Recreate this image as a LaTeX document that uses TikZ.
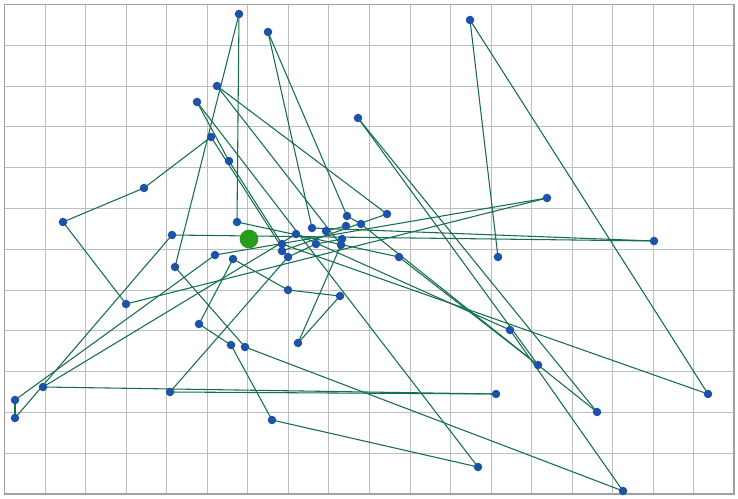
\documentclass[tikz,border=0pt]{standalone}
\definecolor{gridc}{RGB}{190,190,190}
\definecolor{framec}{RGB}{160,160,160}
\definecolor{edgec}{RGB}{22,110,78}
\definecolor{dotc}{RGB}{28,82,168}
\definecolor{startc}{RGB}{38,158,28}
\begin{document}
\begin{tikzpicture}[x=0.75pt,y=-0.75pt,
  gridline/.style={draw=gridc,line width=0.75pt},
  edge/.style={draw=edgec,line width=0.8pt},
  dot/.style={circle,fill=dotc,inner sep=0pt,minimum size=6.4pt},
  startdot/.style={circle,fill=startc,inner sep=0pt,minimum size=14pt}]
\useasboundingbox (0,0) rectangle (738,499);
\fill[white] (0,0) rectangle (738,499);
% grid
\foreach \i in {1,...,17} \draw[gridline] (4.5+40.55*\i,4.5) -- (4.5+40.55*\i,494);
\foreach \j in {1,...,11} \draw[gridline] (4.5,4.5+40.8*\j) -- (734,4.5+40.8*\j);
\draw[draw=framec,line width=1pt] (4.5,4.5) rectangle (734,494);
% points
\coordinate (a1) at (239,14);
\coordinate (a2) at (268,32);
\coordinate (a3) at (470,20);
\coordinate (a4) at (217,86);
\coordinate (a5) at (197,102);
\coordinate (a6) at (358,118);
\coordinate (a7) at (211,137);
\coordinate (a8) at (229,161);
\coordinate (a9) at (144,188);
\coordinate (a10) at (63,222);
\coordinate (a11) at (237,222);
\coordinate (a12) at (172,235);
\coordinate (gs) at (249,239);
\coordinate (a14) at (347,216);
\coordinate (a15) at (387,214);
\coordinate (a16) at (547,198);
\coordinate (a17) at (654,241);
\coordinate (a18) at (498,257);
\coordinate (a19) at (399,257);
\coordinate (a20) at (361,224);
\coordinate (a21) at (346,226);
\coordinate (a22) at (312,228);
\coordinate (a23) at (326,231);
\coordinate (a24) at (296,234);
\coordinate (a25) at (342,239);
\coordinate (a26) at (341,245);
\coordinate (a27) at (316,244);
\coordinate (a28) at (282,244);
\coordinate (a29) at (282,251);
\coordinate (a30) at (288,257);
\coordinate (a31) at (215,255);
\coordinate (a32) at (233,259);
\coordinate (a33) at (175,267);
\coordinate (a34) at (126,304);
\coordinate (a35) at (288,290);
\coordinate (a36) at (340,296);
\coordinate (a37) at (199,324);
\coordinate (a38) at (298,343);
\coordinate (a39) at (231,345);
\coordinate (a40) at (245,347);
\coordinate (a41) at (43,387);
\coordinate (a42) at (15,400);
\coordinate (a43) at (15,418);
\coordinate (a44) at (170,392);
\coordinate (a45) at (272,420);
\coordinate (a46) at (510,330);
\coordinate (a47) at (538,365);
\coordinate (a48) at (708,394);
\coordinate (a49) at (496,394);
\coordinate (a50) at (597,412);
\coordinate (a51) at (478,467);
\coordinate (a52) at (623,491);
% edges
\foreach \u/\v in {a1/a11,a1/a33,a2/a22,a2/a14,a3/a18,a3/a48,a4/a15,a4/a26,
  a5/a51,a5/a8,a6/a50,a6/a47,a7/a9,a7/a30,a8/a28,a9/a10,a10/a34,a34/a16,
  a11/a19,a12/a17,a22/a17,a42/a43,a42/a31,a43/a12,a41/a49,a44/a49,a41/a24,
  a44/a30,a31/a16,a33/a40,a40/a52,a46/a52,a28/a48,a32/a37,a32/a35,a37/a39,
  a39/a45,a45/a51,a35/a36,a36/a38,a38/a26,a19/a47,a20/a47,a47/a50,a46/a24,
  a15/a29,a14/a20,a21/a23,a25/a27,a27/a30}
  \draw[edge] (\u) -- (\v);
% dots
\foreach \p in {a1,a2,a3,a4,a5,a6,a7,a8,a9,a10,a11,a12,a14,a15,a16,a17,a18,a19,
  a20,a21,a22,a23,a24,a25,a26,a27,a28,a29,a30,a31,a32,a33,a34,a35,a36,a37,a38,
  a39,a40,a41,a42,a43,a44,a45,a46,a47,a48,a49,a50,a51,a52}
  \node[dot] (d\p) at (\p) {};
\node[startdot] (start) at (gs) {};
\end{tikzpicture}
\end{document}
